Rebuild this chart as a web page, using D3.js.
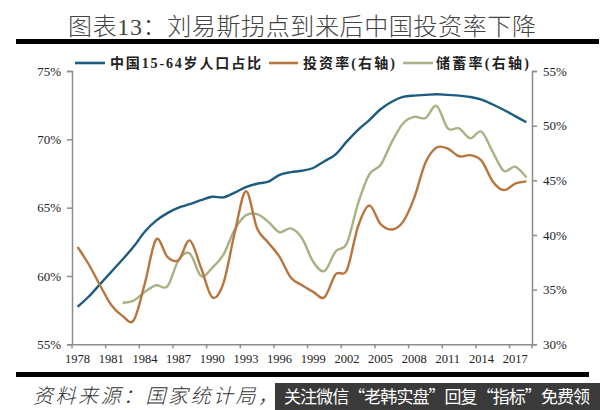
<!DOCTYPE html>
<html>
<head>
<meta charset="utf-8">
<script src="https://cdn.jsdelivr.net/npm/d3@7"></script>
<style>
  html, body { margin: 0; padding: 0; background: #fff; }
  svg { display: block; }
</style>
</head>
<body>
<div id="chart"></div>
<script>
const years = d3.range(1978, 2019);
const labourShare = [57.75, 58.5, 59.4, 60.3, 61.2, 62.15, 63.25, 64.05, 64.6, 65.0, 65.25, 65.55, 65.8, 65.75,
  66.1, 66.5, 66.75, 66.9, 67.4, 67.6, 67.7, 67.9, 68.4, 68.9, 69.85, 70.7, 71.4, 72.2, 72.75, 73.1, 73.2,
  73.25, 73.3, 73.25, 73.2, 73.1, 72.9, 72.55, 72.15, 71.7, 71.25];
const investRate = [38.9, 37.3, 35.4, 33.6, 32.6, 32.2, 35.6, 39.6, 38.0, 37.7, 39.5, 37.0, 34.3, 35.6, 40.2,
  44.0, 40.6, 39.3, 38.0, 36.1, 35.4, 34.8, 34.3, 36.4, 36.8, 40.8, 42.7, 41.0, 40.5, 41.2, 43.4, 46.6, 48.0,
  47.9, 47.2, 47.3, 46.8, 44.9, 44.1, 44.7, 44.9];
const savingYears = d3.range(1982, 2019);
const savingRate = [33.8, 34.0, 34.8, 35.4, 35.3, 37.7, 38.3, 36.25, 37.0, 38.2, 40.5, 41.8, 41.9, 41.2, 40.25,
  40.6, 39.7, 37.55, 36.7, 38.5, 39.25, 42.9, 45.55, 46.4, 48.5, 50.2, 50.8, 50.7, 51.8, 49.75, 49.75, 48.85,
  49.45, 47.6, 45.85, 46.25, 45.25];
const leftTicks = [55, 60, 65, 70, 75];
const rightTicks = [30, 35, 40, 45, 50, 55];
const xLabelYears = years.filter((d) => (d - 1978) % 3 === 0 && d < 2018);

const blue = "#1d5c80", orange = "#b8763e", green = "#a7b285";
const cjk = '"Noto Sans CJK SC", sans-serif';
const latin = '"Liberation Serif", serif';
const mixed = '"Liberation Serif", "Noto Sans CJK SC", serif';

const svg = d3.select("#chart").append("svg").attr("width", 600).attr("height", 410);

const x = d3.scaleBand().domain(years).range([72, 532]);
const yLeft = d3.scaleLinear().domain([55, 75]).range([344.3, 71]);
const yRight = d3.scaleLinear().domain([30, 55]).range([344.3, 71]);

// title and the two heavy rules
svg.append("text")
  .attr("x", 68).attr("y", 35)
  .attr("textLength", 468)
  .style("font-family", mixed).style("font-size", "24px").style("font-weight", 300)
  .style("fill", "#444")
  .text("图表13：刘易斯拐点到来后中国投资率下降");
svg.append("rect").attr("x", 16).attr("y", 39).attr("width", 583).attr("height", 5).attr("fill", "#000");
svg.append("rect").attr("x", 16).attr("y", 372).attr("width", 573).attr("height", 5).attr("fill", "#000");

// axes
function styleAxis(g) {
  g.selectAll("path, line").attr("stroke", "#8c8c8c").attr("stroke-width", 1.5);
  g.selectAll("text").style("font-family", latin).style("font-size", "13px").style("fill", "#222");
}
svg.append("g").attr("transform", "translate(72,0)")
  .call(d3.axisLeft(yLeft).tickValues(leftTicks).tickSize(5).tickPadding(6).tickFormat((d) => d + "%"))
  .call(styleAxis);
svg.append("g").attr("transform", "translate(532,0)")
  .call(d3.axisRight(yRight).tickValues(rightTicks).tickSize(5).tickPadding(6).tickFormat((d) => d + "%"))
  .call(styleAxis);

// category axis: marks sit on the band edges, labels under the first band of each group
const xAxis = svg.append("g").attr("transform", "translate(0,344.3)")
  .call(d3.axisBottom(x).tickValues(xLabelYears).tickSize(0).tickPadding(10))
  .call(styleAxis);
xAxis.selectAll("text").style("font-size", "12.5px");
xAxis.selectAll(".edge").data(xLabelYears.slice(0).concat([2018])).enter().append("line")
  .attr("class", "edge")
  .attr("x1", (d) => x(d) + (d === 2018 ? x.bandwidth() : 0))
  .attr("x2", (d) => x(d) + (d === 2018 ? x.bandwidth() : 0))
  .attr("y1", 0).attr("y2", 4)
  .attr("stroke", "#8c8c8c").attr("stroke-width", 1.5);

// lines
const centre = (d) => x(d) + x.bandwidth() / 2;
function addLine(xs, values, yScale, colour) {
  const line = d3.line()
    .x((d, i) => centre(xs[i]))
    .y((d) => yScale(d))
    .curve(d3.curveCatmullRom.alpha(0));
  svg.append("path")
    .attr("d", line(values))
    .attr("fill", "none")
    .attr("stroke", colour)
    .attr("stroke-width", 2.4)
    .attr("stroke-linejoin", "round");
}
addLine(years, labourShare, yLeft, blue);
addLine(savingYears, savingRate, yRight, green);
addLine(years, investRate, yRight, orange);

// legend
const legendItems = [
  { label: "中国15-64岁人口占比", colour: blue, x1: 75, x2: 105, tx: 110, w: 151 },
  { label: "投资率(右轴)", colour: orange, x1: 269, x2: 298, tx: 303, w: 92 },
  { label: "储蓄率(右轴)", colour: green, x1: 403, x2: 433, tx: 436, w: 93 },
];
legendItems.forEach((d) => {
  svg.append("line").attr("x1", d.x1).attr("x2", d.x2).attr("y1", 63).attr("y2", 63)
    .attr("stroke", d.colour).attr("stroke-width", 2.6);
  svg.append("text").attr("x", d.tx).attr("y", 68).attr("textLength", d.w)
    .style("font-family", mixed).style("font-size", "14px").style("font-weight", 700).style("fill", "#222")
    .text(d.label);
});

// source note and the dark banner over it
svg.append("text").attr("x", 33).attr("y", 403).attr("textLength", 245)
  .style("font-family", cjk).style("font-size", "20px").style("font-style", "italic").style("font-weight", 300)
  .style("fill", "#333")
  .text("资料来源：国家统计局，");
svg.append("rect").attr("x", 275).attr("y", 383).attr("width", 325).attr("height", 27).attr("fill", "#3a3a3a");
svg.append("text").attr("x", 284).attr("y", 403).attr("textLength", 306)
  .style("font-family", cjk).style("font-size", "17px").style("fill", "#fff")
  .text("关注微信“老韩实盘”回复“指标”免费领");
</script>
</body>
</html>
